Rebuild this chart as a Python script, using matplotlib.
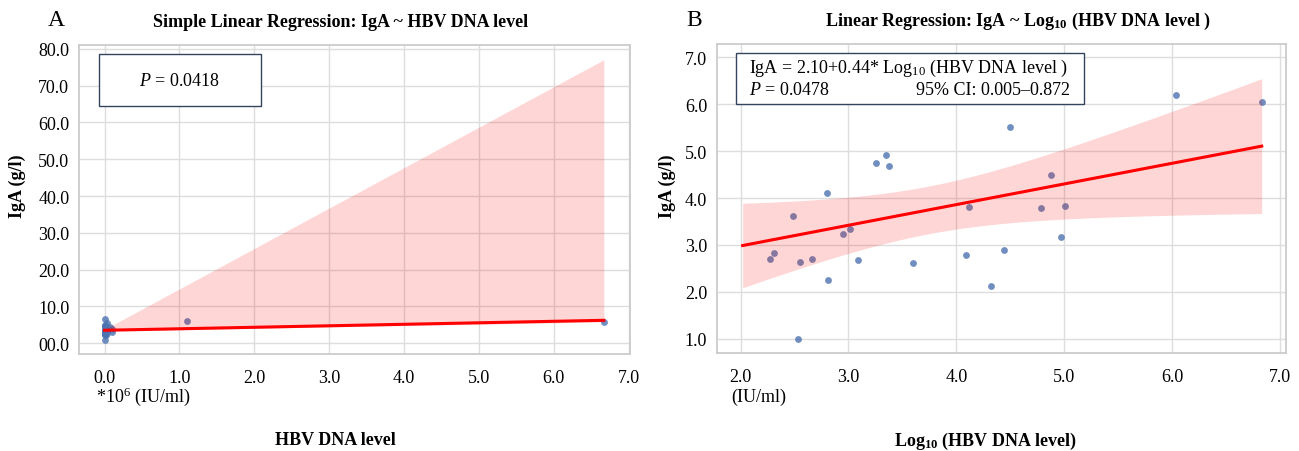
import matplotlib
matplotlib.use("Agg")
import matplotlib.pyplot as plt
import numpy as np

plt.rcParams["font.family"] = ["Liberation Serif", "DejaVu Serif"]
plt.rcParams["mathtext.fontset"] = "custom"
plt.rcParams["mathtext.rm"] = "Liberation Serif"
plt.rcParams["mathtext.it"] = "Liberation Serif:italic"
plt.rcParams["mathtext.bf"] = "Liberation Serif:bold"

# panel A: raw HBV DNA level (*10^6 IU/ml) vs IgA (g/l)
hbv_a = [0.0, 0.0002, 0.0002, 0.0003, 0.0003, 0.0004, 0.0005, 0.0006, 0.0006,
         0.0009, 0.001, 0.0012, 0.0018, 0.002, 0.0024, 0.004, 0.012, 0.013,
         0.021, 0.028, 0.032, 0.06, 0.076, 0.093, 0.10, 1.10, 6.67]
iga_a = [6.6, 2.70, 2.84, 3.62, 1.0, 2.63, 2.70, 4.11, 2.26, 3.23, 3.35, 2.67,
         4.74, 4.91, 4.69, 2.61, 2.79, 3.80, 2.13, 2.89, 5.52, 3.78, 4.48,
         3.18, 3.84, 6.05, 5.90]
# bootstrap CI band
band_a_x = [0.0, 6.67]
band_a_lo = [3.3, 5.8]
band_a_hi = [3.8, 77.0]
yticks_a = [0, 10, 20, 30, 40, 50, 60, 70, 80]
ylabels_a = ["00.0", "10.0", "20.0", "30.0", "40.0", "50.0", "60.0", "70.0", "80.0"]

# panel B: log10 HBV DNA level vs IgA (g/l)
log_hbv_b = [2.27, 2.31, 2.49, 2.53, 2.55, 2.66, 2.80, 2.81, 2.95, 3.01, 3.09,
             3.26, 3.35, 3.38, 3.60, 4.09, 4.12, 4.32, 4.44, 4.50, 4.78, 4.88,
             4.97, 5.01, 6.04, 6.83]
iga_b = [2.70, 2.84, 3.62, 1.00, 2.63, 2.70, 4.11, 2.26, 3.23, 3.35, 2.67,
         4.74, 4.91, 4.69, 2.61, 2.79, 3.80, 2.13, 2.89, 5.52, 3.78, 4.48,
         3.18, 3.84, 6.19, 6.04]
coef_b = [2.10, 0.44]      # intercept, slope as printed on the chart
slope_ci_b = [0.005, 0.872]  # 95% CI of the slope, printed on the chart
line_start_b = 2.02
t_975 = 2.064  # t quantile, df = 24

xticks = [0, 1, 2, 3, 4, 5, 6, 7]

point_color = "#4C72B0"
grid_color = "#dddddd"
box_color = "#34435e"
W, H = 1299, 452


def style_axes(ax):
    ax.set_facecolor("white")
    ax.grid(True, color=grid_color, linewidth=1.0)
    ax.set_axisbelow(True)
    for sp in ax.spines.values():
        sp.set_color("#cccccc")
        sp.set_linewidth(1.3)
    ax.tick_params(length=0, labelsize=13)
    ax.tick_params(axis="x", pad=11)
    ax.tick_params(axis="y", pad=7)


fig = plt.figure(figsize=(W / 100, H / 100), dpi=100)
ax_a = fig.add_axes([79 / W, 1 - 355 / H, 551 / W, 309 / H])
ax_b = fig.add_axes([717 / W, 1 - 354 / H, 569 / W, 309 / H])

# ---- panel A
style_axes(ax_a)
ax_a.scatter(hbv_a, iga_a, s=24, color=point_color, alpha=0.8, linewidths=0, zorder=2)
ax_a.fill_between(band_a_x, band_a_lo, band_a_hi, color="red", alpha=0.16,
                  linewidth=0, zorder=3)
slope_a, icpt_a = np.polyfit(hbv_a, iga_a, 1)
xa = np.array([min(hbv_a), max(hbv_a)])
ax_a.plot(xa, icpt_a + slope_a * xa, color="red", linewidth=2.2, zorder=4)
ax_a.set_xlim(-0.342, 7.02)
ax_a.set_ylim(-2.9, 81)
ax_a.set_xticks(xticks)
ax_a.set_xticklabels([f"{v:.1f}" for v in xticks])
ax_a.set_yticks(yticks_a)
ax_a.set_yticklabels(ylabels_a)
ax_a.set_title("Simple Linear Regression: IgA ~ HBV DNA level",
               fontsize=13, fontweight="bold", pad=14, x=0.474)
ax_a.add_patch(plt.Rectangle((0.036, 0.803), 0.294, 0.169, transform=ax_a.transAxes,
                             facecolor="white", edgecolor=box_color, linewidth=1.0,
                             zorder=5))
ax_a.text(0.1815, 0.884, "$P$ = 0.0418", transform=ax_a.transAxes, fontsize=13,
          ha="center", va="center", zorder=6)

fig.text(56 / W, 1 - 21 / H, "A", fontsize=17, ha="center", va="center")
fig.text(17 / W, 1 - 186 / H, "IgA (g/l)", fontsize=13, fontweight="bold",
         rotation=90, ha="center", va="center")
fig.text(96 / W, 1 - 397 / H, "*10$^6$ (IU/ml)", fontsize=13, ha="left",
         va="center")
fig.text(335 / W, 1 - 441 / H, "HBV DNA level", fontsize=13,
         fontweight="bold", ha="center", va="center")

# ---- panel B
style_axes(ax_b)
xb = np.array(log_hbv_b)
yb = np.array(iga_b)
ax_b.scatter(xb, yb, s=24, color=point_color, alpha=0.8, linewidths=0, zorder=2)
icpt_b, slope_b = coef_b
n = len(xb)
sxx = np.sum((xb - xb.mean()) ** 2)
# residual std implied by the printed slope CI
se_slope = (slope_ci_b[1] - slope_ci_b[0]) / 2 / t_975
s_err = se_slope * np.sqrt(sxx)
grid_x = np.linspace(line_start_b, xb.max(), 100)
fit_y = icpt_b + slope_b * grid_x
half = t_975 * s_err * np.sqrt(1 / n + (grid_x - xb.mean()) ** 2 / sxx)
ax_b.fill_between(grid_x, fit_y - half, fit_y + half, color="red", alpha=0.16,
                  linewidth=0, zorder=3)
ax_b.plot(grid_x, fit_y, color="red", linewidth=2.2, zorder=4)
ax_b.set_xlim(1.782, 7.055)
ax_b.set_ylim(0.70, 7.28)
ax_b.set_xticks(xticks[2:])
ax_b.set_xticklabels([f"{v:.1f}" for v in xticks[2:]])
ax_b.set_yticks([1, 2, 3, 4, 5, 6, 7])
ax_b.set_yticklabels([f"{v:.1f}" for v in [1, 2, 3, 4, 5, 6, 7]])
ax_b.set_title(r"Linear Regression: IgA ~ Log$_{\mathbf{10}}$ (HBV DNA level )",
               fontsize=13, fontweight="bold", pad=14, x=0.528)
ax_b.add_patch(plt.Rectangle((0.0334, 0.805), 0.612, 0.165, transform=ax_b.transAxes,
                             facecolor="white", edgecolor=box_color, linewidth=1.0,
                             zorder=5))
ax_b.text(0.057, 0.923, r"IgA = 2.10+0.44* Log$_{\mathrm{10}}$ (HBV DNA level )",
          transform=ax_b.transAxes, fontsize=13, ha="left", va="center", zorder=6)
ax_b.text(0.057, 0.852, "$P$ = 0.0478", transform=ax_b.transAxes, fontsize=13,
          ha="left", va="center", zorder=6)
ax_b.text(0.620, 0.852, "95% CI: 0.005\u20130.872", transform=ax_b.transAxes,
          fontsize=13, ha="right", va="center", zorder=6)

fig.text(694 / W, 1 - 21 / H, "B", fontsize=17, ha="center", va="center")
fig.text(667 / W, 1 - 186 / H, "IgA (g/l)", fontsize=13, fontweight="bold",
         rotation=90, ha="center", va="center")
fig.text(731 / W, 1 - 397 / H, "(IU/ml)", fontsize=13, ha="left", va="center")
fig.text(985 / W, 1 - 441 / H, r"Log$_{\mathbf{10}}$ (HBV DNA level)",
         fontsize=13, fontweight="bold", ha="center", va="center")

fig.savefig("out.png", dpi=100, facecolor="white")
